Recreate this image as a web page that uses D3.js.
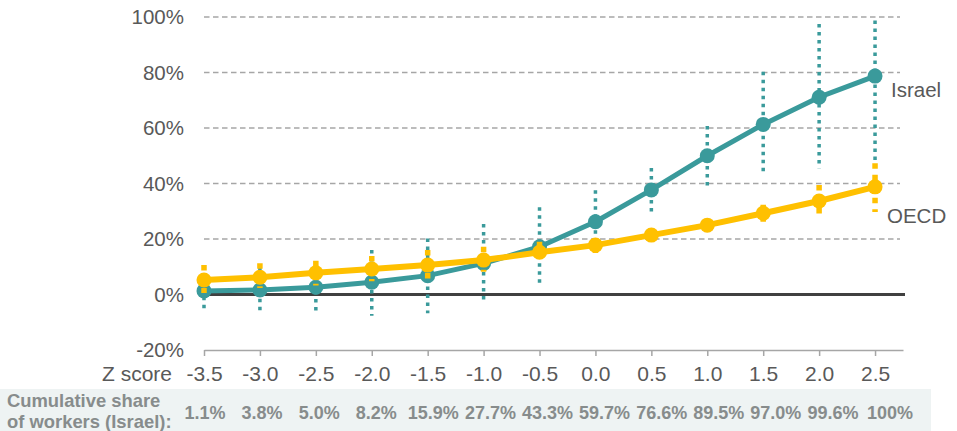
<!DOCTYPE html>
<html>
<head>
<meta charset="utf-8">
<script src="https://cdn.jsdelivr.net/npm/d3@7"></script>
<style>
  html, body { margin: 0; padding: 0; background: #ffffff; }
  svg { display: block; font-family: "Liberation Sans", Arial, sans-serif; }
</style>
</head>
<body>
<svg id="chart" width="957" height="431"></svg>
<script>
// Z score categories along the horizontal axis
const zScores = [-3.5, -3.0, -2.5, -2.0, -1.5, -1.0, -0.5, 0.0, 0.5, 1.0, 1.5, 2.0, 2.5];

// Israel: point estimate and confidence bounds (%)
const israelValues = [1.3, 1.6, 2.6, 4.4, 6.8, 11.2, 17.2, 26.2, 37.7, 50.0, 61.3, 71.1, 78.7];
const israelLow    = [-5.5, -6.2, -5.8, -7.7, -6.8, -2.6, 3.4, 17.0, 29.8, 38.8, 43.0, 45.5, 48.0];
const israelHigh   = [5.0, 10.0, 7.0, 16.0, 20.2, 25.4, 31.4, 37.6, 45.6, 60.7, 80.3, 97.5, 98.7];

// OECD: point estimate and confidence bounds (%)
const oecdValues = [5.2, 6.2, 7.8, 9.2, 10.6, 12.4, 15.2, 17.8, 21.4, 25.0, 29.3, 33.7, 38.8];
const oecdLow    = [0.5, 2.3, 3.2, 4.8, 5.5, 8.2, 12.0, 15.0, 19.6, 23.0, 26.2, 29.0, 29.7];
const oecdHigh   = [10.6, 11.3, 12.2, 13.9, 16.0, 17.2, 19.0, 20.4, 24.0, 27.0, 32.3, 39.5, 47.3];

// Cumulative share of workers in Israel at each Z score
const cumulativeShare = ["1.1%", "3.8%", "5.0%", "8.2%", "15.9%", "27.7%", "43.3%", "59.7%",
                         "76.6%", "89.5%", "97.0%", "99.6%", "100%"];

// Axis ticks
const yTicks = [-20, 0, 20, 40, 60, 80, 100];
const xTickLabels = ["-3.5", "-3.0", "-2.5", "-2.0", "-1.5", "-1.0", "-0.5", "0.0", "0.5", "1.0", "1.5", "2.0", "2.5"];

const TEAL = "#3a9a9b";
const GOLD = "#ffc000";
const GRID = "#a6a6a6";
const TEXT = "#595959";

const svg = d3.select("#chart");

const x = d3.scaleLinear().domain([-3.5, 2.75]).range([204, 903]);
const y = d3.scaleLinear().domain([-20, 100]).range([350, 17]);

// Dashed horizontal gridlines
svg.append("g")
  .selectAll("line")
  .data(yTicks.filter(t => t > 0))
  .join("line")
  .attr("x1", x.range()[0]).attr("x2", x.range()[1] - 3)
  .attr("y1", d => y(d)).attr("y2", d => y(d))
  .attr("stroke", GRID)
  .attr("stroke-width", 1.3)
  .attr("stroke-dasharray", "5.5,3.5");

// Y axis labels
svg.append("g")
  .selectAll("text")
  .data(yTicks)
  .join("text")
  .attr("x", 184)
  .attr("y", d => y(d))
  .attr("dy", "0.35em")
  .attr("text-anchor", "end")
  .attr("fill", TEXT)
  .attr("font-size", 20.5)
  .text(d => d + "%");

// Bottom x axis at -20%
const xAxis = d3.axisBottom(x)
  .tickValues(zScores)
  .tickFormat((d, i) => xTickLabels[i])
  .tickSize(6)
  .tickSizeOuter(0);

const gx = svg.append("g")
  .attr("transform", `translate(0,${y(-20)})`)
  .call(xAxis);
gx.select(".domain").attr("stroke", GRID).attr("stroke-width", 1.5);
gx.selectAll(".tick line").attr("stroke", GRID).attr("stroke-width", 1.5);
gx.selectAll(".tick text")
  .attr("fill", TEXT)
  .attr("font-size", 21)
  .attr("font-family", "Liberation Sans, Arial, sans-serif")
  .attr("dy", 0)
  .attr("y", 31);

svg.append("text")
  .attr("x", 172)
  .attr("y", y(-20) + 31)
  .attr("text-anchor", "end")
  .attr("fill", TEXT)
  .attr("font-size", 21)
  .text("Z score");

// Zero baseline
svg.append("line")
  .attr("x1", x.range()[0]).attr("x2", x.range()[1] + 2)
  .attr("y1", y(0)).attr("y2", y(0))
  .attr("stroke", "#404040")
  .attr("stroke-width", 3);

function drawSeries(values, low, high, color, lineWidth, barWidth, barDash) {
  const g = svg.append("g");
  g.append("g")
    .selectAll("line")
    .data(zScores)
    .join("line")
    .attr("x1", d => x(d)).attr("x2", d => x(d))
    .attr("y1", (d, i) => y(high[i]))
    .attr("y2", (d, i) => y(low[i]))
    .attr("stroke", color)
    .attr("stroke-width", barWidth)
    .attr("stroke-dasharray", barDash);

  const line = d3.line()
    .x((d, i) => x(zScores[i]))
    .y(d => y(d));

  g.append("path")
    .datum(values)
    .attr("d", line)
    .attr("fill", "none")
    .attr("stroke", color)
    .attr("stroke-width", lineWidth)
    .attr("stroke-linejoin", "round");

  g.append("g")
    .selectAll("circle")
    .data(values)
    .join("circle")
    .attr("cx", (d, i) => x(zScores[i]))
    .attr("cy", d => y(d))
    .attr("r", 7.5)
    .attr("fill", color);
}

drawSeries(israelValues, israelLow, israelHigh, TEAL, 5, 3.5, "3.5,4.5");
drawSeries(oecdValues, oecdLow, oecdHigh, GOLD, 6, 5.5, "5.5,6");

// Series labels
svg.append("text")
  .attr("x", 891)
  .attr("y", y(israelValues[israelValues.length - 1]) + 21)
  .attr("fill", TEXT)
  .attr("font-size", 20.5)
  .text("Israel");

svg.append("text")
  .attr("x", 887)
  .attr("y", y(oecdValues[oecdValues.length - 1]) + 36)
  .attr("fill", TEXT)
  .attr("font-size", 20.5)
  .text("OECD");

// Cumulative share strip
svg.append("rect")
  .attr("x", 0).attr("y", 389)
  .attr("width", 931).attr("height", 42)
  .attr("fill", "#eef3f3");

// Two-line caption, drawn as separate texts
const stripLines = ["Cumulative share", "of workers (Israel):"];
svg.append("g")
  .selectAll("text")
  .data(stripLines)
  .join("text")
  .attr("x", 7)
  .attr("y", (d, i) => 407 + i * 20.5)
  .attr("fill", "#878c8c")
  .attr("font-size", 18.4)
  .attr("font-weight", "bold")
  .text(d => d);

const shareX = d3.scalePoint().domain(cumulativeShare).range([205, 890]);
svg.append("g")
  .selectAll("text")
  .data(cumulativeShare)
  .join("text")
  .attr("x", d => shareX(d))
  .attr("y", 419)
  .attr("text-anchor", "middle")
  .attr("fill", "#878c8c")
  .attr("font-size", 18)
  .attr("font-weight", "bold")
  .text(d => d);
</script>
</body>
</html>
